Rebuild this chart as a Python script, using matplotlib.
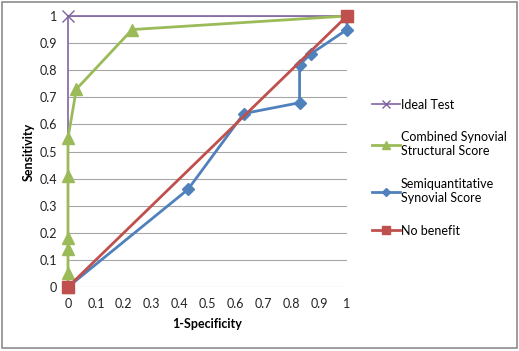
import numpy as np
import matplotlib
matplotlib.use('Agg')
import matplotlib.pyplot as plt
from matplotlib.patches import Rectangle

plt.rcParams['font.family'] = ['Lato', 'DejaVu Sans']

# data
ideal_x = [0, 0, 1]
ideal_y = [0, 1, 1]
comb_x = [0, 0, 0, 0, 0, 0, 0.03, 0.23, 1]
comb_y = [0, 0.05, 0.14, 0.18, 0.41, 0.55, 0.73, 0.95, 1]
semi_x = [0, 0.43, 0.63, 0.83, 0.83, 0.87, 1, 1]
semi_y = [0, 0.36, 0.64, 0.68, 0.82, 0.86, 0.95, 1]
nob_x = [0, 1]
nob_y = [0, 1]
ticks = [0, 0.1, 0.2, 0.3, 0.4, 0.5, 0.6, 0.7, 0.8, 0.9, 1]
tick_labels = ['0', '0.1', '0.2', '0.3', '0.4', '0.5', '0.6', '0.7', '0.8', '0.9', '1']

fig = plt.figure(figsize=(5.19, 3.51), dpi=100)
ax = fig.add_axes([0.131, 0.1823, 0.5376, 0.7721])

for t in ticks:
    ax.axhline(t, color='#a6a6a6', lw=0.8, zorder=0)

ax.plot(ideal_x, ideal_y, color='#8064A2', lw=1.2, marker='x', ms=8, mew=1,
        label='Ideal Test', zorder=2, clip_on=False)
ax.plot(comb_x, comb_y, color='#9BBB59', lw=2, marker='^', ms=8,
        label='Combined Synovial\nStructural Score', zorder=3, clip_on=False)
ax.plot(semi_x, semi_y, color='#4F81BD', lw=2, marker='D', ms=6,
        label='Semiquantitative\nSynovial Score', zorder=4, clip_on=False)
ax.plot(nob_x, nob_y, color='#C0504D', lw=2, marker='s', ms=8,
        label='No benefit', zorder=5, clip_on=False)

ax.set_xlim(0, 1)
ax.set_ylim(0, 1)
ax.set_xticks(ticks)
ax.set_xticklabels(tick_labels)
ax.set_yticks(ticks)
ax.set_yticklabels(tick_labels)
ax.tick_params(length=0, labelsize=9, colors='#222222', pad=8)
for s in ax.spines.values():
    s.set_visible(False)
ax.set_xlabel('1-Specificity', fontsize=9, fontweight='bold', labelpad=6)
ax.set_ylabel('Sensitivity', fontsize=9, fontweight='bold', labelpad=3)

ax.legend(loc='center left', bbox_to_anchor=(1.05, 0.44), frameon=False,
          fontsize=9, handlelength=2.2, handletextpad=0.1, labelspacing=1.65,
          markerscale=0.75)

fig.patches.append(Rectangle((0.004, 0.008), 0.992, 0.985, transform=fig.transFigure,
                             fill=False, edgecolor='#8c8c8c', lw=1.2))

fig.savefig('out.png', dpi=100)
